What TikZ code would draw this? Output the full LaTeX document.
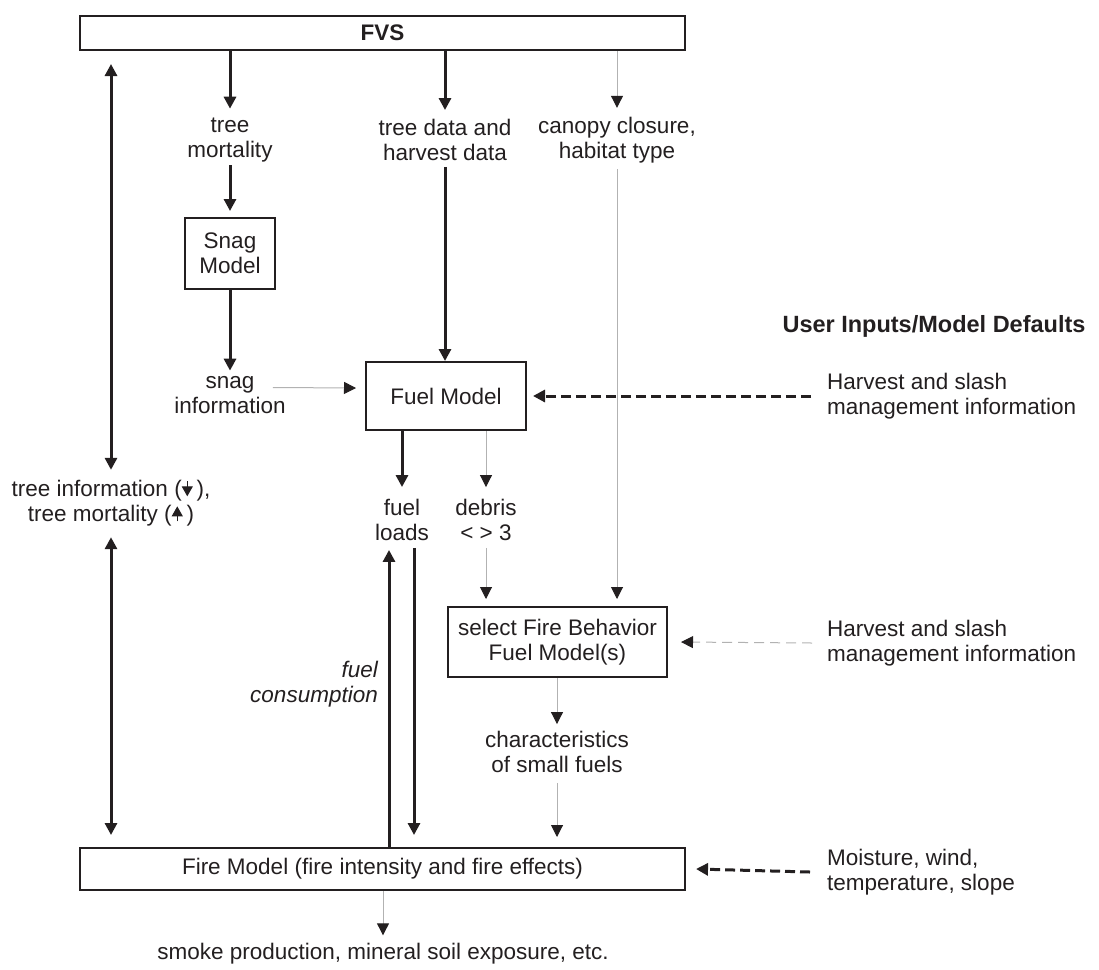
\documentclass[tikz,border=0pt]{standalone}
\usepackage{fontspec}
\setmainfont{Liberation Sans}
\usetikzlibrary{arrows.meta}
\definecolor{ink}{RGB}{35,31,32}
\definecolor{lgray}{RGB}{178,178,178}
\newcommand{\tinydn}{\tikz[x=1pt,y=1pt,baseline=0pt]\draw[ink,line width=1pt,-{Triangle[width=11pt,length=10pt]}] (0,15)--(0,0);}
\newcommand{\tinyup}{\tikz[x=1pt,y=1pt,baseline=0pt]\draw[ink,line width=1pt,-{Triangle[width=11pt,length=10pt]}] (0,0)--(0,15);}
\begin{document}
\begin{tikzpicture}[x=1pt,y=-1pt,
  every node/.style={font=\fontsize{22.5}{25}\selectfont, inner sep=0pt, align=center, text=ink},
  box/.style={draw=ink, line width=2pt},
  thk/.style={line width=3pt, ink, -{Triangle[width=12pt,length=12pt]}},
  thkboth/.style={line width=3pt, ink, {Triangle[width=12pt,length=12pt]}-{Triangle[width=12pt,length=12pt]}},
  thn/.style={line width=1pt, lgray, -{Triangle[width=12pt,length=12pt,color=ink]}},
  dsh/.style={line width=3pt, ink, dash pattern=on 10pt off 5pt, -{Triangle[width=12pt,length=12pt]}},
  dshg/.style={line width=1pt, lgray, dash pattern=on 10pt off 6pt, -{Triangle[width=12pt,length=12pt,color=ink]}}
]
\useasboundingbox (0,0) rectangle (1099,969);

% boxes
\node[box, minimum width=605pt, minimum height=34pt, font=\bfseries\fontsize{22.5}{25}\selectfont] (fvs) at (382.5,33) {FVS};
\node[box, minimum width=90pt, minimum height=71pt] (snag) at (230,253.5) {Snag\\Model};
\node[box, minimum width=160pt, minimum height=68pt] (fm) at (446,396) {Fuel Model};
\node[box, minimum width=219pt, minimum height=70pt] (sel) at (557.5,642) {select Fire Behavior\\Fuel Model(s)};
\node[box, minimum width=605pt, minimum height=42pt] (fire) at (382.5,869) {Fire Model (fire intensity and fire effects)};

% labels
\node (tm) at (230,140) {tree\\mortality};
\node (td) at (445,140) {tree data and\\harvest data};
\node (cc) at (617,140) {canopy closure,\\habitat type};
\node (si) at (230,395.5) {snag\\information};
\node[font=\bfseries\fontsize{23.5}{25}\selectfont] (ui) at (934,326) {User Inputs/Model Defaults};
\node[anchor=west, align=left] (h1) at (827,396) {Harvest and slash\\management information};
\node (ti) at (111,503) {tree information (\tinydn\,),\\tree mortality (\tinyup\,)};
\node (fl) at (402,520) {fuel\\loads};
\node (db) at (486,520) {debris\\< > 3};
\node[anchor=east, align=right, font=\itshape\fontsize{22.5}{25}\selectfont] (fc) at (378,684) {fuel\\consumption};
\node[anchor=west, align=left] (h2) at (827,643) {Harvest and slash\\management information};
\node (ch) at (557,752) {characteristics\\of small fuels};
\node[anchor=west, align=left] (mo) at (827,872) {Moisture, wind,\\temperature, slope};
\node (sm) at (383,954) {smoke production, mineral soil exposure, etc.};

\coordinate (fdn) at ([xshift=12pt]fl.south);
\coordinate (fup) at ([xshift=-13pt]fl.south);

% connectors
\draw[thk, shorten >=9pt] (fvs.south -| tm.north) -- (tm.north);
\draw[thk, shorten >=9pt] (fvs.south -| td.north) -- (td.north);
\draw[thn, shorten >=9pt] (fvs.south -| cc.north) -- (cc.north);
\draw[thk, shorten <=3pt, shorten >=6pt] (tm.south) -- (snag.north);
\draw[thk, shorten >=6pt] (snag.south) -- (si.north);
\draw[thk, shorten <=6pt] (td.south) -- (td.south |- fm.north);
\draw[thn] ([xshift=-13pt,yshift=8pt]si.east) -- ([xshift=-9pt,yshift=8pt]fm.west);
\draw[dsh] ([xshift=-16pt]h1.west) -- ([xshift=6pt]fm.east);
\draw[thkboth, shorten <=13pt, shorten >=10pt] (fvs.south -| ti.north) -- (ti.north);
\draw[thkboth, shorten <=11pt, shorten >=12pt] (ti.south) -- (ti.south |- fire.north);
\draw[thk, shorten >=12pt] (fm.south -| fl.north) -- (fl.north);
\draw[thn, shorten >=12pt] (fm.south -| db.north) -- (db.north);
\draw[thn, shorten <=7pt, shorten >=7pt] (db.south) -- (db.south |- sel.north);
\draw[thn, shorten <=6pt, shorten >=7pt] (cc.south) -- (cc.south |- sel.north);
\draw[dshg] ([xshift=-15pt]h2.west) -- ([xshift=13pt]sel.east);
\draw[thn, shorten >=7pt] (sel.south -| ch.north) -- (ch.north);
\draw[thn, shorten <=10pt, shorten >=10pt] (ch.south) -- (ch.south |- fire.north);
\draw[thk, shorten <=7pt, shorten >=12pt] (fdn) -- (fdn |- fire.north);
\draw[thk, shorten >=9pt] (fup |- fire.north) -- (fup);
\draw[dsh] ([xshift=-17pt]mo.west) -- ([xshift=10pt]fire.east);
\draw[thn, shorten >=8pt] (fire.south -| sm.north) -- (sm.north);
\end{tikzpicture}
\end{document}
